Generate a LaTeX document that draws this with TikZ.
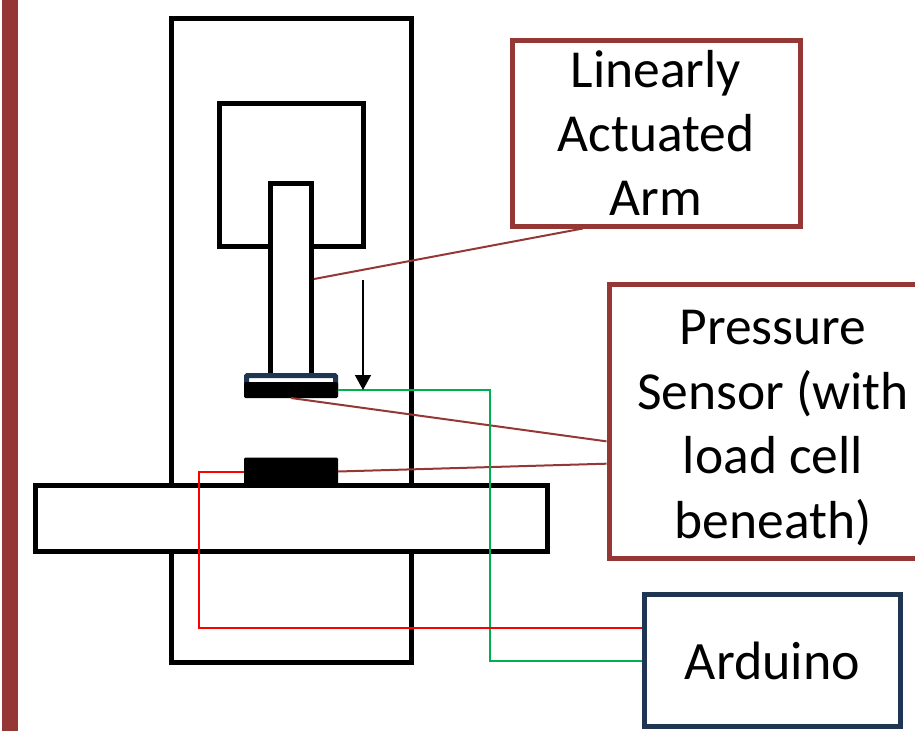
\documentclass[tikz,border=0pt]{standalone}
\usepackage{fontspec}
\setmainfont{Carlito}
\usepackage{xcolor}
\usetikzlibrary{arrows.meta,positioning,calc}
\definecolor{brownred}{HTML}{953735}
\definecolor{navyline}{HTML}{1F3552}
\definecolor{wiregreen}{HTML}{00B050}
\tikzset{
  part/.style={draw=black, fill=white, line width=5pt, inner sep=0pt},
  solidpart/.style={draw=black, fill=black, line width=1pt, rounded corners=1pt, inner sep=0pt},
  labelbox/.style={draw=brownred, fill=white, line width=5pt, inner sep=0pt, align=center,
              font=\fontsize{53.5}{64}\selectfont},
  ctrlbox/.style={labelbox, draw=navyline, font=\fontsize{54}{64}\selectfont},
  lead/.style={draw=brownred, line width=2pt},
  wire/.style={line width=2pt},
  arr/.style={-{Triangle[length=15pt,width=16pt]}, line width=1.5pt}
}
\begin{document}
\begin{tikzpicture}[x=1pt,y=-1pt]
\useasboundingbox (0,0) rectangle (915,731);
\fill[brownred] (2,0) rectangle (18,731);
% press frame
\node[part, minimum width=240pt, minimum height=644pt] (frame) at (291,340) {};
\node[part, minimum width=144pt, minimum height=143pt] (housing) at (291,174.5) {};
\node[part, minimum width=41pt, minimum height=192pt] (arm) at (291,279) {};
\node[part, minimum width=512pt, minimum height=66pt] (table) at (291,518) {};
% sensor plates
\node[draw=navyline, fill=white, line width=5pt, rounded corners=1pt, inner sep=0pt,
      minimum width=89pt, minimum height=19pt] (topcap) at (291,385) {};
\node[solidpart, minimum width=93pt, minimum height=15pt] (topplate) at (291,390) {};
\node[solidpart, minimum width=93pt, minimum height=27pt] (bottomplate) at (291,471.5) {};
% labels
\node[labelbox, minimum width=288pt, minimum height=186pt] (armlabel) at (656,133) {Linearly\\Actuated\\Arm};
\node[labelbox, minimum width=326pt, minimum height=274pt] (sensorlabel) at (772,421) {};
\node[font=\fontsize{53.5}{64.5}\selectfont, align=center, inner sep=0pt] (sensortext) at (773,428) {Pressure\\Sensor (with\\load cell\\beneath)};
\node[ctrlbox, minimum width=256pt, minimum height=132pt] (arduino) at (772.5,660.5) {Arduino};
\coordinate (armfoot) at ($(armlabel.south west)!0.25!(armlabel.south east)$);
\coordinate (sensorupper) at ($(sensorlabel.north west)!0.573!(sensorlabel.south west)$);
\coordinate (sensorlower) at ($(sensorlabel.north west)!0.653!(sensorlabel.south west)$);
\coordinate (arduinored) at ($(arduino.north west)!0.265!(arduino.south west)$);
\coordinate (arduinogreen) at (arduino.west);
\coordinate (travel) at (363,280);
% leader lines
\draw[lead] (arm.east) -- (armfoot);
\draw[lead] (topplate.south) -- (sensorupper);
\draw[lead] (bottomplate.east) -- (sensorlower);
% wires
\draw[wire, wiregreen] (topplate.east) -- ++(151.5,0) |- (arduinogreen);
\draw[wire, red] (bottomplate.west) -- ++(-45,0) |- (arduinored);
\draw[arr] (travel) -- (travel |- topplate.east);
\end{tikzpicture}
\end{document}
